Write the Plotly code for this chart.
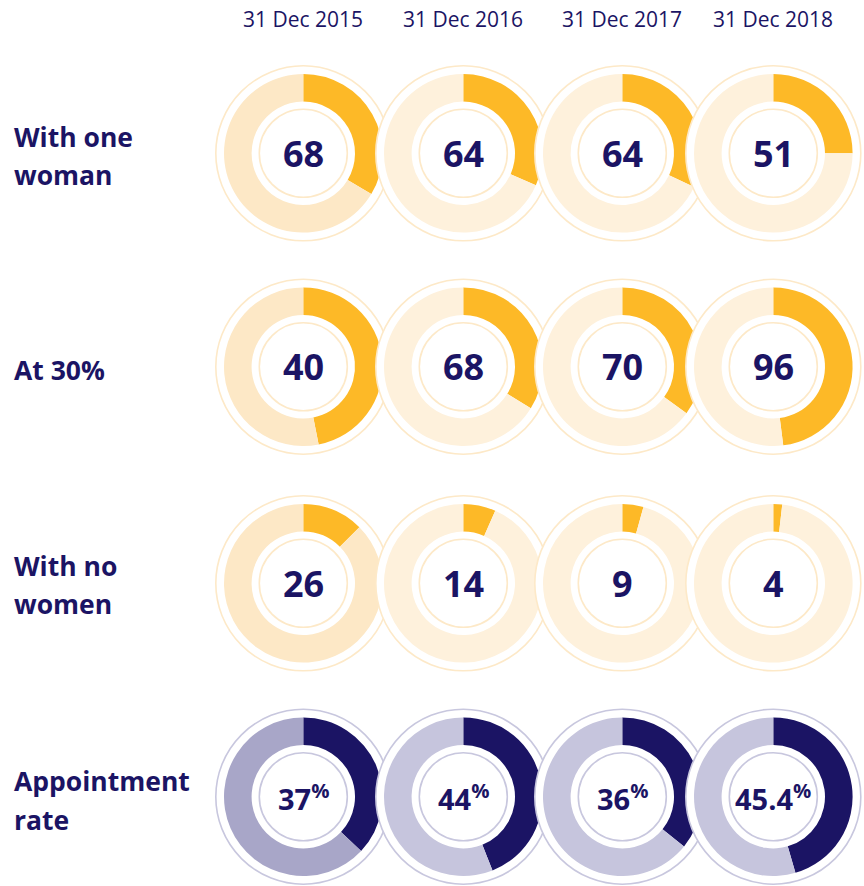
import plotly.graph_objects as go

W, H = 864, 886

# ---- data ----
years = ["31 Dec 2015", "31 Dec 2016", "31 Dec 2017", "31 Dec 2018"]
row_labels = [["With one", "woman"], ["At 30%"], ["With no", "women"], ["Appointment", "rate"]]
one_woman = [68, 64, 64, 51]
at_30 = [40, 68, 70, 96]
no_women = [26, 14, 9, 4]
appointment_rate = [37, 44, 36, 45.4]
# arc share of each ring as drawn in the picture (fraction of full circle)
one_woman_share = [0.336, 0.316, 0.32, 0.25]
at_30_share = [0.469, 0.338, 0.35, 0.48]
no_women_share = [0.125, 0.066, 0.043, 0.018]
appointment_share = [0.37, 0.44, 0.358, 0.455]

values = [one_woman, at_30, no_women, appointment_rate]
shares = [one_woman_share, at_30_share, no_women_share, appointment_share]

# ---- styling ----
NAVY = "#1b1464"
YELLOW = "#fdb927"
PEACH_FIRST = "#fde8c6"
PEACH = "#fef1dc"
PEACH_LINE = "#fde9c8"
LILAC_FIRST = "#a8a6c8"
LILAC = "#c6c5dd"
LILAC_LINE = "#c8c7de"

col_x = [303.3, 463.3, 622.3, 773.3]
row_y = [153.3, 366.7, 583.3, 796.7]
R_OUT_RING = 87.5
R_DONUT = 79.3
R_HOLE = 51.7
R_IN_RING = 44.0


def dom(cx, cy, r):
    return dict(x=[(cx - r) / W, (cx + r) / W], y=[1 - (cy + r) / H, 1 - (cy - r) / H])


fig = go.Figure()
annotations = []

for ri in range(4):
    purple = ri == 3
    for ci in range(4):
        cx, cy = col_x[ci], row_y[ri]
        line_col = LILAC_LINE if purple else PEACH_LINE
        fg = NAVY if purple else YELLOW
        bg = (LILAC_FIRST if ci == 0 else LILAC) if purple else (PEACH_FIRST if ci == 0 else PEACH)
        # outer white disk with thin ring
        fig.add_trace(go.Pie(values=[1], domain=dom(cx, cy, R_OUT_RING), marker=dict(colors=["white"], line=dict(color=line_col, width=1.6)),
                             textinfo="none", hoverinfo="skip", sort=False, showlegend=False))
        s = shares[ri][ci]
        fig.add_trace(go.Pie(values=[s, 1 - s], domain=dom(cx, cy, R_DONUT), hole=R_HOLE / R_DONUT,
                             marker=dict(colors=[fg, bg], line=dict(width=0)), direction="clockwise", rotation=0,
                             sort=False, textinfo="none", hoverinfo="skip", showlegend=False))
        # inner thin ring
        fig.add_trace(go.Pie(values=[1], domain=dom(cx, cy, R_IN_RING), marker=dict(colors=["white"], line=dict(color=line_col, width=1.6)),
                             textinfo="none", hoverinfo="skip", sort=False, showlegend=False))
        v = values[ri][ci]
        if purple:
            txt = f"{v}<sup>%</sup>"
            size = 29
        else:
            txt = f"{v}"
            size = 36
        annotations.append(dict(x=cx / W, y=1 - cy / H, xref="paper", yref="paper", text=txt, showarrow=False,
                                xanchor="center", yanchor="middle",
                                font=dict(family="Open Sans", size=size, color=NAVY, weight=700)))

# headers
for ci, yr in enumerate(years):
    annotations.append(dict(x=col_x[ci] / W, y=1 - 19 / H, xref="paper", yref="paper", text=yr, showarrow=False,
                            xanchor="center", yanchor="middle", font=dict(family="Open Sans", size=21, color=NAVY)))

# row labels
label_y = [[137, 175], [370], [566, 604], [781, 820]]
for ri, lines in enumerate(row_labels):
    for li, line in enumerate(lines):
        annotations.append(dict(x=12 / W, y=1 - label_y[ri][li] / H, xref="paper", yref="paper", text=line, showarrow=False,
                                xanchor="left", yanchor="middle",
                                font=dict(family="Open Sans", size=26.5, color=NAVY, weight=700)))

fig.update_layout(width=W, height=H, margin=dict(l=0, r=0, t=0, b=0), paper_bgcolor="white", plot_bgcolor="white",
                  annotations=annotations, showlegend=False)
fig.write_html("out.html")
